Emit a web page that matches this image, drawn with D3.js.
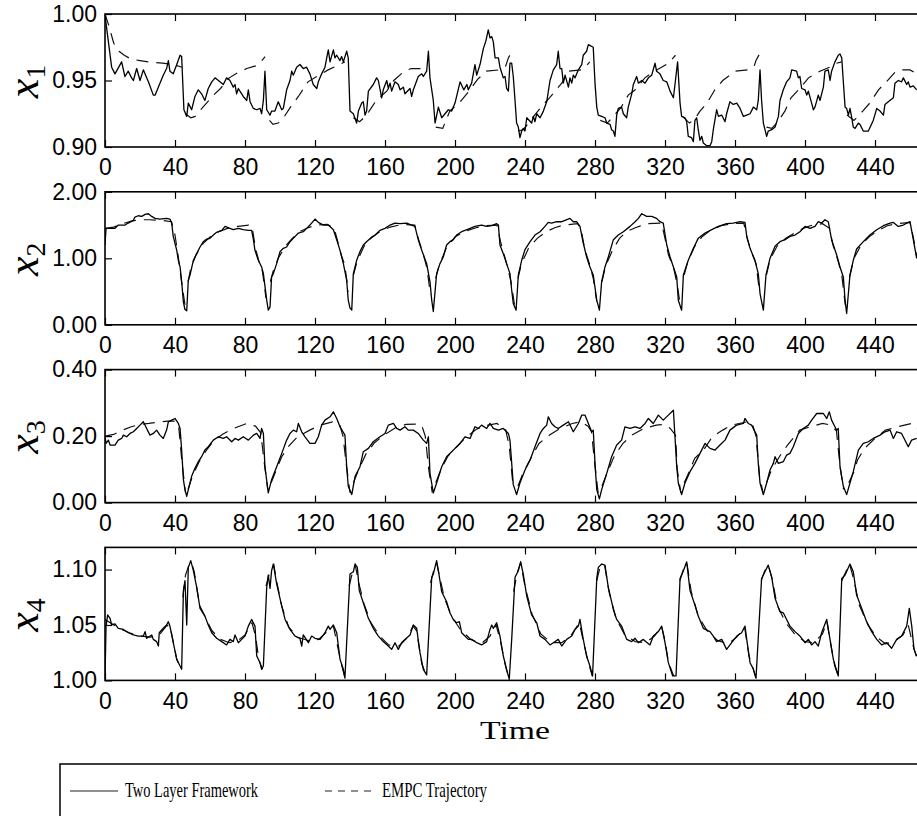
<!DOCTYPE html>
<html>
<head>
<meta charset="utf-8">
<script src="https://cdn.jsdelivr.net/npm/d3@7"></script>
<style>
  body { margin: 0; background: #fff; }
  svg { display: block; }
</style>
</head>
<body>
<svg id="chart" width="917" height="816"></svg>
<script>
// LAYOUT PARAMETERS
const PLOT_LEFT = 105;
const PX_PER_STEP = 1.75;
const PANEL_TOP = 14;
const PANEL_STEP = 177.8;
const PANEL_HEIGHT = 133;
const TICK_FONT = '"Liberation Sans", Arial, Helvetica, sans-serif';
const SERIF_FONT = '"Liberation Serif", "Times New Roman", serif';

// Time axis (the right edge runs past the picture)
const timeDomain = [0, 468];
const timeTicks = [0, 40, 80, 120, 160, 200, 240, 280, 320, 360, 400, 440];

// Two layer framework (solid) series, [time, value]
const x1Two = [[0,0.999],[3.8,0.960],[5.7,0.955],[9.5,0.964],[11.4,0.953],[13.3,0.957],[15.2,0.952],[16.2,0.950],[18.1,0.959],[20,0.950],[21.9,0.958],[23.8,0.952],[24.8,0.949],[27.6,0.939],[28.6,0.939],[31.4,0.948],[33.3,0.954],[35.2,0.959],[36.2,0.965],[37.1,0.957],[39,0.955],[41,0.962],[42.9,0.969],[43.8,0.968],[45.1,0.928],[46.7,0.923],[47.6,0.933],[49.5,0.928],[51.4,0.938],[53.3,0.943],[55.2,0.940],[57.1,0.935],[59,0.944],[61,0.949],[62.9,0.952],[64.8,0.950],[67.6,0.947],[69.5,0.952],[71.4,0.950],[73.3,0.945],[74.3,0.947],[75.2,0.940],[76.2,0.944],[77.1,0.942],[79,0.938],[81,0.935],[81.9,0.943],[82.9,0.934],[84.8,0.929],[86.7,0.928],[88.6,0.929],[89.5,0.925],[90.5,0.935],[91.4,0.957],[92.4,0.928],[94.3,0.924],[95.2,0.927],[97.1,0.927],[99,0.934],[101,0.928],[101.9,0.929],[103.8,0.943],[105.7,0.950],[106.7,0.957],[107.6,0.954],[109.5,0.960],[111.4,0.962],[113.3,0.959],[115.2,0.960],[117.1,0.955],[119,0.947],[121,0.944],[121.9,0.949],[123.8,0.955],[125.7,0.960],[126.7,0.967],[127.6,0.973],[128.6,0.964],[130.5,0.973],[131.4,0.967],[132.4,0.969],[134.3,0.965],[135.2,0.968],[136.2,0.964],[138.1,0.972],[139,0.967],[140,0.927],[141.9,0.925],[143.8,0.918],[144.8,0.927],[146.7,0.933],[147.6,0.934],[148.6,0.924],[149.5,0.927],[150.5,0.942],[153.3,0.947],[155.2,0.952],[156.2,0.950],[158.1,0.937],[159,0.943],[161,0.950],[161.9,0.944],[162.9,0.948],[163.8,0.942],[165.7,0.949],[167.6,0.947],[168.6,0.943],[170.5,0.945],[171.4,0.940],[174.3,0.944],[175.2,0.938],[176.2,0.943],[179,0.953],[181,0.955],[181.9,0.953],[183.8,0.957],[184.8,0.972],[185.7,0.952],[187.6,0.935],[188.6,0.918],[190.5,0.930],[192.4,0.922],[194.3,0.925],[196.2,0.928],[198.1,0.927],[200,0.933],[202.9,0.949],[205,0.943],[206.8,0.947],[207.6,0.943],[209.5,0.948],[211.4,0.962],[212.4,0.954],[214.3,0.962],[216.2,0.974],[217.7,0.980],[219,0.988],[220,0.982],[221,0.983],[221.9,0.979],[222.9,0.967],[224.8,0.967],[225.7,0.960],[227.6,0.952],[228.6,0.953],[229.5,0.944],[230.5,0.942],[231.4,0.963],[232.4,0.963],[233.3,0.953],[234.3,0.935],[235.2,0.918],[236.2,0.915],[237.1,0.907],[238.1,0.912],[239,0.914],[240,0.912],[241,0.922],[243.8,0.918],[244.8,0.923],[245.7,0.919],[246.7,0.925],[248.6,0.922],[250.5,0.927],[252.4,0.934],[254.3,0.950],[256.2,0.958],[258.1,0.962],[259,0.972],[260,0.959],[261,0.959],[261.9,0.948],[262.9,0.954],[264.8,0.945],[265.7,0.952],[266.7,0.948],[267.6,0.954],[268.6,0.952],[270.5,0.958],[272.4,0.962],[273.3,0.969],[275.2,0.972],[276.2,0.977],[279,0.975],[280,0.948],[281,0.930],[281.9,0.924],[283.8,0.923],[285.7,0.922],[286.7,0.918],[288.6,0.917],[289.5,0.913],[290.5,0.912],[291.4,0.908],[292.4,0.924],[293.3,0.929],[295.2,0.930],[296.2,0.925],[298.1,0.922],[299,0.930],[301,0.940],[301.9,0.947],[303.8,0.953],[304.8,0.948],[306.7,0.950],[308.6,0.948],[310.5,0.952],[312.4,0.954],[314.3,0.963],[315.2,0.957],[317.1,0.955],[319,0.950],[321,0.949],[322.9,0.942],[324.8,0.937],[325.7,0.947],[327.2,0.964],[328.6,0.933],[329.5,0.923],[331.4,0.922],[332.4,0.919],[333.3,0.908],[335.2,0.907],[336.2,0.904],[337.1,0.920],[338.1,0.922],[339,0.913],[340,0.905],[341,0.908],[341.9,0.903],[343.8,0.901],[345.7,0.901],[346.7,0.904],[347.6,0.913],[349.5,0.928],[350.5,0.923],[352.4,0.924],[354.3,0.919],[355.2,0.925],[357.1,0.934],[359,0.932],[361,0.933],[362.9,0.929],[364.8,0.923],[366.7,0.924],[368.6,0.925],[370.5,0.930],[372.4,0.928],[373.3,0.935],[374.3,0.958],[375.2,0.935],[376.2,0.918],[378.1,0.908],[379,0.912],[381,0.913],[382.9,0.915],[384.8,0.923],[385.7,0.935],[387.6,0.943],[389.5,0.949],[391.4,0.952],[392.4,0.958],[395.2,0.957],[396.2,0.952],[397.1,0.953],[398.1,0.944],[400,0.943],[401,0.939],[401.9,0.942],[403.8,0.933],[404.8,0.928],[405.7,0.930],[407.6,0.939],[408.6,0.935],[410.5,0.945],[411.4,0.957],[413.3,0.958],[414.3,0.950],[415.2,0.957],[417.1,0.964],[419,0.969],[420,0.970],[421,0.967],[421.9,0.949],[422.9,0.930],[423.8,0.929],[424.8,0.924],[425.7,0.929],[426.7,0.922],[427.6,0.915],[428.6,0.914],[430.5,0.918],[431.4,0.917],[433.3,0.912],[436.2,0.912],[439,0.920],[441,0.929],[442.9,0.927],[444.8,0.924],[445.7,0.932],[447.6,0.934],[450.5,0.937],[451.4,0.948],[453.3,0.950],[455.2,0.949],[456.2,0.952],[458.1,0.947],[459,0.949],[460,0.945],[461.9,0.946],[463.8,0.943]];

const x2Two = [[0,1.20],[0.6,1.45],[2.9,1.45],[5.7,1.45],[7.6,1.50],[11.4,1.50],[13.3,1.53],[16.2,1.57],[17.1,1.62],[19,1.64],[21,1.63],[22.9,1.66],[24.8,1.67],[26.7,1.63],[28.6,1.60],[31.4,1.59],[35.2,1.60],[37.1,1.59],[38.1,1.53],[39,1.33],[41,1.12],[41.9,0.97],[42.9,0.87],[43.8,0.65],[44.8,0.34],[45.7,0.23],[46.7,0.21],[47.6,0.67],[48.6,0.75],[50.5,0.97],[52.4,1.07],[54.3,1.17],[56.2,1.25],[58.1,1.29],[60,1.30],[61.9,1.35],[63.8,1.39],[66.7,1.42],[68.6,1.48],[71.4,1.45],[73.3,1.43],[76.2,1.45],[79,1.43],[81.9,1.42],[83.8,1.42],[84.8,1.28],[85.7,1.12],[87.6,0.97],[89.5,0.87],[90.5,0.77],[92.4,0.37],[93.3,0.22],[94.3,0.27],[95.2,0.72],[96.2,0.77],[98.1,0.92],[100,1.10],[101.9,1.15],[103.8,1.17],[105.7,1.25],[107.6,1.30],[110.5,1.38],[113.3,1.40],[115.2,1.45],[117.1,1.50],[120,1.59],[121.9,1.54],[124.8,1.50],[127.6,1.50],[130.5,1.43],[132.4,1.28],[134.3,1.12],[136.2,0.92],[138.1,0.67],[139,0.37],[140,0.25],[141,0.22],[141.9,0.77],[143.8,0.97],[145.7,1.10],[147.6,1.20],[149.5,1.25],[152.4,1.32],[154.3,1.35],[157.1,1.42],[160,1.45],[162.9,1.50],[165.7,1.53],[168.6,1.52],[172.4,1.53],[175.2,1.50],[177.1,1.48],[179,1.28],[181,1.12],[183.8,0.92],[185.7,0.65],[186.7,0.37],[187.6,0.20],[189.5,0.77],[191.4,0.92],[193.3,1.02],[195.2,1.20],[197.1,1.25],[199,1.28],[200.9,1.35],[203.8,1.40],[207.6,1.44],[211.4,1.48],[215.2,1.50],[218.1,1.48],[221,1.49],[223.8,1.52],[224.8,1.50],[225.7,1.20],[227.6,1.07],[229.5,0.92],[231.4,0.77],[232.4,0.52],[233.3,0.32],[234.9,0.22],[236.2,0.75],[238.1,0.97],[240,1.13],[242.9,1.25],[245.7,1.35],[248.6,1.40],[251.4,1.48],[253.3,1.54],[255.2,1.53],[258.1,1.55],[261,1.55],[262.9,1.57],[265.7,1.60],[267.6,1.55],[269.5,1.55],[271.4,1.48],[273.3,1.23],[275.2,1.02],[277.1,0.87],[279,0.75],[281,0.37],[282.5,0.22],[283.8,0.65],[285.7,0.87],[287.6,1.02],[290.5,1.28],[293.3,1.35],[296.2,1.40],[300,1.48],[302.9,1.55],[304.8,1.60],[306.7,1.67],[309.5,1.63],[312.4,1.63],[315.2,1.60],[317.1,1.55],[319,1.53],[321,1.20],[322.9,1.02],[324.8,0.87],[326.7,0.72],[327.6,0.37],[329.5,0.22],[330.5,0.75],[333.3,0.97],[336.2,1.15],[339,1.30],[342.9,1.38],[346.7,1.43],[350.5,1.48],[355.2,1.52],[359,1.53],[362.9,1.55],[365.7,1.54],[366.7,1.33],[368.6,1.15],[371.4,0.97],[373.3,0.77],[374.3,0.47],[376.2,0.22],[377.7,0.75],[380,1.00],[382.9,1.18],[385.7,1.25],[388.6,1.28],[391.4,1.33],[394.3,1.35],[397.1,1.40],[400,1.48],[402.9,1.45],[405.7,1.48],[407.6,1.55],[409.5,1.53],[411.4,1.58],[413.3,1.55],[415.2,1.28],[418.1,1.05],[420,0.87],[421.9,0.72],[422.9,0.37],[423.8,0.17],[425.7,0.75],[427.6,0.97],[429.5,1.14],[433.3,1.25],[437.1,1.35],[441,1.43],[444.8,1.49],[448.6,1.53],[450.5,1.54],[453.3,1.48],[456.2,1.50],[459,1.54],[460,1.55],[461.9,1.28],[463.8,1.00]];

const x3Two = [[0,0.198],[0.6,0.178],[1.9,0.188],[2.9,0.173],[5.7,0.173],[7.6,0.188],[9.5,0.193],[10.5,0.203],[12.4,0.198],[14.3,0.208],[16.2,0.213],[18.1,0.223],[20,0.233],[21.9,0.243],[23.8,0.223],[25.7,0.203],[27.6,0.208],[29.5,0.218],[31.4,0.203],[33.3,0.193],[35.2,0.218],[36.2,0.243],[38.1,0.248],[40,0.253],[41.9,0.238],[42.9,0.223],[43.8,0.158],[44.8,0.069],[45.7,0.039],[46.7,0.019],[47.6,0.039],[49.5,0.079],[51.4,0.103],[53.3,0.123],[55.2,0.138],[57.1,0.158],[59,0.168],[61.9,0.188],[64.8,0.198],[67.6,0.193],[69.5,0.198],[72.4,0.183],[74.3,0.193],[76.2,0.188],[79,0.198],[81.9,0.188],[84.8,0.203],[86.7,0.208],[88.6,0.193],[89.5,0.223],[90.5,0.208],[91.4,0.108],[93.3,0.029],[95.2,0.069],[98.1,0.108],[101,0.148],[103.8,0.188],[105.7,0.208],[107.6,0.218],[109.5,0.213],[110.5,0.238],[112.4,0.213],[114.3,0.198],[117.1,0.178],[120,0.178],[121.9,0.198],[123.8,0.233],[125.7,0.248],[128.6,0.258],[130.5,0.273],[132.4,0.253],[134.3,0.228],[137.1,0.203],[138.1,0.108],[139,0.049],[141,0.024],[142.9,0.079],[145.7,0.108],[147.6,0.153],[150.5,0.163],[153.3,0.183],[157.1,0.198],[160,0.208],[161.9,0.233],[164.8,0.238],[166.7,0.223],[168.6,0.218],[171.4,0.228],[173.3,0.218],[176.2,0.218],[179,0.208],[181.9,0.188],[183.8,0.178],[184.8,0.198],[185.7,0.089],[187.6,0.029],[189.5,0.059],[192.4,0.108],[195.2,0.138],[198.1,0.153],[200,0.163],[202.9,0.178],[205.7,0.198],[208.6,0.193],[211.4,0.228],[213.3,0.223],[215.2,0.233],[218.1,0.223],[220,0.238],[221.9,0.223],[224.8,0.218],[227.6,0.223],[230.5,0.208],[231.4,0.188],[232.4,0.118],[233.3,0.054],[235.2,0.024],[237.1,0.059],[240,0.098],[242.9,0.128],[245.7,0.168],[248.6,0.208],[250.5,0.223],[252.4,0.233],[253.3,0.258],[255.2,0.238],[257.1,0.228],[259,0.223],[261.9,0.233],[264.8,0.243],[267.6,0.213],[270.5,0.238],[272.4,0.263],[274.3,0.263],[276.2,0.238],[278.1,0.213],[279,0.218],[280,0.118],[281,0.039],[282.5,0.011],[283.8,0.039],[286.7,0.088],[289.5,0.138],[292.4,0.173],[295.2,0.188],[297.1,0.228],[300,0.223],[302.9,0.228],[305.7,0.223],[308.6,0.238],[310.5,0.253],[313.3,0.238],[316.2,0.263],[319,0.248],[321.9,0.263],[324.8,0.278],[325.7,0.198],[326.7,0.108],[327.6,0.059],[329.5,0.024],[331.4,0.059],[334.3,0.093],[337.1,0.118],[340,0.148],[342.9,0.178],[345.7,0.163],[348.6,0.158],[351.4,0.173],[354.3,0.188],[357.1,0.218],[360.9,0.233],[364.8,0.238],[365.7,0.253],[367.6,0.238],[369.5,0.233],[371.4,0.213],[372.4,0.203],[373.3,0.118],[374.3,0.059],[376.2,0.024],[378.1,0.059],[380,0.098],[381.9,0.118],[382.9,0.138],[384.8,0.118],[387.6,0.123],[389.5,0.143],[391.4,0.148],[393.3,0.168],[396.2,0.208],[399,0.223],[401.9,0.233],[403.8,0.248],[406.7,0.268],[410.5,0.268],[412.4,0.253],[413.9,0.273],[415.2,0.248],[417.1,0.228],[418.1,0.218],[419,0.223],[420,0.108],[421.9,0.049],[423.8,0.024],[425.7,0.059],[427.6,0.093],[430.5,0.158],[433.3,0.178],[436.2,0.183],[439,0.193],[442.9,0.203],[445.7,0.213],[448.6,0.218],[450.5,0.193],[452.4,0.213],[455.2,0.208],[459,0.168],[460.9,0.188],[463.8,0.193]];

const x4Two = [[0,1.001],[0.6,1.049],[1.5,1.059],[2.9,1.056],[3.8,1.050],[5.7,1.051],[7.6,1.047],[10.5,1.046],[13.3,1.043],[16.2,1.041],[19,1.040],[21.9,1.040],[22.9,1.044],[23.8,1.038],[26.7,1.041],[27.6,1.037],[29.5,1.035],[30.5,1.031],[31,1.043],[33.3,1.047],[35.2,1.050],[36.2,1.053],[37.1,1.049],[39,1.034],[41,1.019],[42.9,1.013],[43.8,1.010],[44.8,1.081],[45.7,1.090],[46.7,1.050],[47.6,1.102],[49,1.108],[50.5,1.099],[52.4,1.084],[54.3,1.065],[57.1,1.058],[59,1.050],[61,1.043],[63.8,1.038],[66.7,1.035],[69.5,1.032],[71.4,1.037],[73.3,1.035],[74.3,1.041],[76.2,1.034],[78.1,1.037],[80,1.040],[81.9,1.049],[83.8,1.055],[85.7,1.049],[86.7,1.022],[88.6,1.016],[89.5,1.010],[90.5,1.013],[92.4,1.084],[93.3,1.095],[94.3,1.083],[95.2,1.099],[96.2,1.105],[98.1,1.087],[101,1.067],[102.9,1.055],[105.7,1.046],[108.6,1.040],[111.4,1.038],[112.4,1.031],[113.3,1.041],[116.2,1.034],[118.1,1.040],[120,1.038],[122.9,1.037],[125.7,1.043],[127.6,1.049],[128.6,1.046],[130.5,1.050],[132.4,1.043],[134.3,1.019],[136.2,1.010],[137.1,1.002],[140,1.096],[141.9,1.098],[142.9,1.105],[144.2,1.102],[145.3,1.081],[147.6,1.070],[150.5,1.056],[153.3,1.047],[156.2,1.040],[159,1.035],[161.9,1.031],[163.8,1.028],[165.7,1.034],[167.6,1.028],[169.5,1.034],[171.4,1.037],[174.3,1.041],[176.2,1.050],[178.1,1.047],[180,1.025],[181.9,1.010],[183.8,1.005],[186.7,1.093],[187.6,1.096],[189.5,1.108],[190.5,1.099],[192.4,1.080],[195.2,1.071],[197.1,1.061],[199,1.055],[200.9,1.052],[202.5,1.053],[203.8,1.043],[205.7,1.040],[207.6,1.037],[209.5,1.037],[212.4,1.034],[215.2,1.032],[218.1,1.035],[220,1.046],[221,1.050],[221.9,1.047],[223.8,1.052],[225.7,1.040],[227.6,1.022],[229.5,1.010],[231,1.001],[232.4,1.037],[234.3,1.093],[236.2,1.099],[237.5,1.107],[239,1.096],[241,1.076],[243.8,1.059],[246.7,1.052],[248.6,1.040],[251.4,1.037],[254.3,1.032],[256.2,1.034],[259,1.037],[261,1.031],[263.8,1.037],[266.7,1.040],[268.6,1.046],[270.5,1.049],[271.4,1.055],[273.3,1.037],[275.2,1.022],[277.1,1.013],[278.6,1.004],[281,1.092],[281.9,1.102],[283.8,1.105],[285.7,1.104],[287.6,1.084],[290.5,1.064],[292.4,1.055],[295.2,1.049],[298.1,1.037],[301,1.035],[302.9,1.038],[304.8,1.034],[307.6,1.037],[311.4,1.032],[313.3,1.040],[316.2,1.044],[318.1,1.049],[320,1.034],[321.9,1.016],[324.4,1.004],[326.3,1.004],[328.6,1.092],[330.5,1.099],[332.4,1.107],[334.3,1.081],[337.1,1.068],[339,1.058],[341.9,1.047],[345.7,1.044],[347.6,1.040],[349.5,1.035],[352.4,1.037],[355.2,1.028],[358.1,1.034],[361,1.040],[363.8,1.043],[365.7,1.049],[366.7,1.037],[368.6,1.016],[370.5,1.010],[372,1.002],[375.2,1.092],[377.1,1.098],[379,1.104],[381,1.093],[382.9,1.074],[385.7,1.062],[387.6,1.061],[389.5,1.055],[391.4,1.049],[394.3,1.044],[397.1,1.040],[400,1.034],[401.9,1.037],[403.8,1.032],[405.7,1.035],[407.6,1.031],[409.5,1.043],[412.4,1.055],[414.3,1.037],[416.2,1.019],[419,1.004],[421,1.092],[422.9,1.095],[425.7,1.105],[427.6,1.098],[429.5,1.077],[432.4,1.065],[435.2,1.053],[438.1,1.044],[441,1.037],[443.8,1.032],[446.7,1.034],[449.5,1.029],[452.4,1.037],[455.2,1.040],[458.1,1.049],[459.6,1.065],[461,1.049],[462.3,1.028],[463.8,1.022]];

// EMPC trajectory (dashed), one array of [time, value] per EMPC horizon
const x1Empc = [
  [[0,1.000],[2,0.992],[5,0.978],[8,0.972],[11,0.969],[15,0.966],[20,0.965],[25,0.964],[33,0.963],[39,0.962],[44,0.960]],
  [[46,0.925],[49,0.922],[51.5,0.923],[54,0.927],[58,0.933],[62,0.939],[66,0.944],[71,0.952],[76,0.956],[81,0.959],[86,0.961],[89,0.964],[91.5,0.968]],
  [[94,0.920],[96,0.917],[99,0.918],[102,0.922],[106,0.930],[110.5,0.938],[116,0.949],[121,0.953],[127.5,0.958],[134,0.962],[137,0.964]],
  [[142,0.922],[145.5,0.919],[149.5,0.924],[152,0.929],[155,0.935],[161,0.942],[165,0.950],[171,0.957],[175,0.959],[180,0.959],[184,0.960]],
  [[189,0.915],[193,0.914],[197,0.927],[203,0.934],[208,0.942],[213,0.951],[218,0.957],[225.5,0.958],[229,0.961],[230.5,0.967],[232.5,0.972]],
  [[236,0.912],[239,0.913],[242,0.918],[245.5,0.924],[250.5,0.932],[254,0.937],[261,0.948],[265,0.957],[272,0.958],[275,0.961],[277,0.964]],
  [[283,0.920],[287,0.918],[290.5,0.923],[295,0.930],[299,0.939],[303,0.943],[308.5,0.952],[314,0.957],[318,0.960],[322,0.963],[326,0.969]],
  [[330,0.923],[334,0.918],[337,0.921],[340,0.927],[344,0.933],[348.5,0.943],[353,0.950],[360,0.957],[367.5,0.958],[371,0.961],[372,0.965],[374,0.970]],
  [[378,0.915],[381,0.914],[384.5,0.919],[388.5,0.927],[392,0.937],[397,0.944],[402,0.952],[408.5,0.957],[414,0.960],[418,0.963],[421,0.964]],
  [[424,0.924],[428,0.920],[433,0.927],[437,0.933],[442,0.943],[446.5,0.949],[452,0.957],[456,0.958],[460,0.958],[464,0.955]]
];

const x2Empc = [
  [[0,1.45],[5,1.47],[10,1.52],[15,1.56],[20,1.58],[25,1.58],[33,1.57],[38,1.55],[40,1.35],[42,1.00],[44,0.60],[46,0.25]],
  [[47.5,0.65],[49,0.85],[52,1.05],[56,1.22],[60,1.32],[65,1.40],[70,1.45],[76,1.48],[82,1.50],[84,1.48],[86,1.15],[88,0.95],[90,0.80],[92,0.40]],
  [[94.5,0.65],[96,0.80],[99,1.00],[103,1.18],[107,1.30],[111,1.40],[116,1.46],[121,1.50],[127,1.51],[131,1.45],[133,1.25],[135,1.05],[137,0.90],[139,0.50]],
  [[142,0.75],[144,0.95],[148,1.18],[152,1.30],[157,1.40],[163,1.47],[170,1.51],[177,1.50],[179,1.30],[182,1.05],[184,0.85],[186,0.45]],
  [[189,0.70],[191,0.90],[195,1.15],[200,1.32],[205,1.40],[212,1.46],[218,1.49],[224,1.50],[226,1.25],[229,0.97],[232,0.65],[234,0.30]],
  [[236,0.70],[238,0.92],[242,1.15],[247,1.30],[252,1.40],[257,1.46],[262,1.50],[270,1.52],[272,1.45],[274,1.15],[277,0.90],[279,0.70],[281,0.35]],
  [[284,0.65],[286,0.88],[290,1.12],[294,1.30],[298,1.40],[303,1.46],[310,1.52],[318,1.53],[320,1.30],[322,1.05],[325,0.85],[327,0.60],[329,0.25]],
  [[331,0.75],[333,0.95],[337,1.18],[341,1.32],[346,1.42],[352,1.49],[358,1.52],[365,1.53],[367,1.30],[369,1.12],[372,0.92],[374,0.50]],
  [[378,0.75],[380,0.98],[384,1.18],[389,1.30],[394,1.38],[399,1.45],[403,1.49],[410,1.52],[414,1.45],[416,1.20],[419,0.95],[421,0.75],[423,0.30]],
  [[425.5,0.72],[428,1.00],[432,1.20],[437,1.33],[442,1.42],[447,1.49],[452,1.52],[460,1.54],[462,1.30],[464,1.00]]
];

const x3Empc = [
  [[0,0.200],[5,0.205],[10,0.218],[15,0.228],[20,0.235],[25,0.238],[30,0.242],[36,0.245],[40,0.245],[42,0.235],[44,0.120],[46,0.030]],
  [[47.5,0.040],[50,0.080],[54,0.125],[58,0.158],[62,0.185],[67,0.205],[73,0.222],[81,0.238],[86,0.230],[89,0.210],[91,0.120],[93,0.040]],
  [[95,0.060],[98,0.100],[101,0.138],[105,0.170],[110,0.198],[117,0.218],[123,0.233],[130,0.243],[134,0.235],[136,0.200],[138,0.110],[140,0.030]],
  [[142,0.060],[145,0.100],[149,0.145],[154,0.180],[160,0.205],[166,0.225],[172,0.235],[178,0.236],[181,0.232],[183,0.200],[185,0.100],[187,0.030]],
  [[189,0.060],[192,0.100],[196,0.140],[201,0.168],[206,0.195],[212,0.220],[218,0.232],[224,0.238],[229,0.218],[231,0.170],[233,0.060]],
  [[236,0.050],[239,0.090],[243,0.130],[248,0.178],[254,0.203],[260,0.223],[267,0.238],[272,0.243],[276,0.230],[278,0.213],[280,0.110],[282,0.020]],
  [[284,0.050],[287,0.090],[291,0.140],[296,0.178],[301,0.203],[308,0.223],[315,0.233],[320,0.235],[323,0.223],[326,0.203],[327,0.100],[329,0.030]],
  [[331,0.060],[334,0.095],[337,0.133],[342,0.158],[347,0.198],[353,0.218],[358,0.233],[367,0.243],[370,0.235],[372,0.200],[374,0.080],[376,0.030]],
  [[378,0.060],[381,0.100],[386,0.143],[390,0.173],[397,0.218],[403,0.228],[410,0.238],[415,0.233],[418,0.215],[420,0.110],[422,0.040]],
  [[425,0.060],[428,0.093],[430,0.128],[434,0.163],[440,0.193],[446,0.218],[453,0.228],[461,0.238],[464,0.223]]
];

const x4Empc = [
  [[0,1.055],[3,1.052],[8,1.047],[14,1.043],[20,1.040],[26,1.039],[31,1.041],[35,1.049],[37,1.050],[39,1.035],[41,1.019],[43.5,1.010]],
  [[44.5,1.075],[46,1.095],[48,1.104],[49.5,1.106],[51,1.098],[54,1.068],[57,1.058],[61,1.045],[66,1.037],[71,1.034],[76,1.036],[80,1.041],[84,1.052],[86,1.040],[88,1.018],[90,1.010]],
  [[92,1.085],[94,1.097],[96.5,1.104],[98,1.090],[101,1.067],[105,1.048],[110,1.039],[116,1.036],[122,1.037],[127,1.044],[130.5,1.049],[133,1.030],[135.5,1.012],[137,1.003]],
  [[139.5,1.085],[141.5,1.098],[143,1.104],[145,1.088],[148,1.069],[152,1.052],[157,1.040],[162,1.032],[168,1.031],[173,1.039],[176,1.049],[178,1.045],[181,1.015],[183.5,1.005]],
  [[186,1.088],[188,1.100],[189.5,1.106],[191,1.095],[194,1.074],[198,1.058],[203,1.046],[209,1.037],[215,1.033],[220,1.040],[223.5,1.050],[226,1.035],[229,1.012],[231,1.001]],
  [[233.5,1.080],[235.5,1.097],[237.5,1.106],[240,1.085],[244,1.060],[249,1.042],[255,1.034],[261,1.034],[266,1.040],[271,1.052],[273,1.038],[276,1.017],[278.5,1.004]],
  [[281,1.090],[283,1.103],[285.5,1.104],[288,1.080],[292,1.056],[297,1.041],[303,1.035],[309,1.034],[314,1.040],[318,1.049],[320,1.036],[322,1.016],[325,1.004]],
  [[328.5,1.090],[330.5,1.100],[332.5,1.106],[335,1.080],[339,1.058],[344,1.045],[350,1.036],[356,1.033],[361,1.039],[365.5,1.048],[368,1.022],[370.5,1.010],[372,1.002]],
  [[375,1.090],[377,1.099],[379,1.104],[381.5,1.090],[384,1.068],[389,1.052],[394,1.042],[400,1.035],[405,1.034],[410,1.042],[412.5,1.053],[415,1.030],[417,1.013],[419,1.004]],
  [[421,1.090],[423,1.097],[425.5,1.105],[428,1.090],[431,1.068],[436,1.050],[441,1.039],[446,1.033],[451,1.035],[456,1.041],[459,1.050],[462,1.030],[464,1.020]]
];

// Per-state axis settings
const stateNames = ['1', '2', '3', '4'];
const stateDomains = [[0.90, 1.00], [0, 2], [0, 0.4], [1.00, 1.12]];
const stateTicks = [[0.90, 0.95, 1.00], [0, 1, 2], [0, 0.2, 0.4], [1.00, 1.05, 1.10]];
const twoSeries = [x1Two, x2Two, x3Two, x4Two];
const empcSeries = [x1Empc, x2Empc, x3Empc, x4Empc];

const legendLabels = ['Two Layer Framework', 'EMPC Trajectory'];

const svg = d3.select('#chart');

const x = d3.scaleLinear()
  .domain(timeDomain)
  .range([PLOT_LEFT, PLOT_LEFT + (timeDomain[1] - timeDomain[0]) * PX_PER_STEP]);
const plotRight = x.range()[1];

stateNames.forEach((name, i) => {
  const top = PANEL_TOP + i * PANEL_STEP;
  const bottom = top + PANEL_HEIGHT;
  const y = d3.scaleLinear().domain(stateDomains[i]).range([bottom, top]);
  const g = svg.append('g').attr('class', `panel panel-${name}`);

  g.append('clipPath').attr('id', `clip-${name}`)
    .append('rect')
    .attr('x', PLOT_LEFT).attr('y', top)
    .attr('width', plotRight - PLOT_LEFT).attr('height', PANEL_HEIGHT);

  const line = d3.line().x((d) => x(d[0])).y((d) => y(d[1]));

  const lines = g.append('g').attr('clip-path', `url(#clip-${name})`);
  lines.selectAll('path.empc')
    .data(empcSeries[i])
    .join('path')
    .attr('class', 'empc')
    .attr('d', line)
    .attr('fill', 'none')
    .attr('stroke', '#111')
    .attr('stroke-width', 1.2)
    .attr('stroke-dasharray', '12,8');
  lines.append('path')
    .datum(twoSeries[i])
    .attr('d', line)
    .attr('fill', 'none')
    .attr('stroke', '#000')
    .attr('stroke-width', 1.3)
    .attr('stroke-linejoin', 'round');

  // axes with inward ticks
  const bottomAxis = g.append('g')
    .attr('transform', `translate(0,${bottom})`)
    .call(d3.axisBottom(x).tickValues(timeTicks).tickSize(-7).tickSizeOuter(0)
      .tickPadding(12).tickFormat(d3.format('d')));
  g.append('g')
    .attr('transform', `translate(0,${top})`)
    .call(d3.axisTop(x).tickValues(timeTicks).tickSize(-7).tickSizeOuter(0)
      .tickFormat(''));
  const leftAxis = g.append('g')
    .attr('transform', `translate(${PLOT_LEFT},0)`)
    .call(d3.axisLeft(y).tickValues(stateTicks[i]).tickSize(-7).tickSizeOuter(0)
      .tickPadding(8).tickFormat(d3.format('.2f')));

  g.selectAll('.domain').remove();
  g.selectAll('.tick line').attr('stroke', '#000').attr('stroke-width', 1.2);
  [bottomAxis, leftAxis].forEach((a) => a.selectAll('text')
    .attr('fill', '#000')
    .style('font-family', TICK_FONT)
    .style('font-size', '23px'));

  g.append('rect')
    .attr('x', PLOT_LEFT).attr('y', top)
    .attr('width', plotRight - PLOT_LEFT).attr('height', PANEL_HEIGHT)
    .attr('fill', 'none')
    .attr('stroke', '#000')
    .attr('stroke-width', 1.6);

  // y label, x with subscript
  const label = g.append('text')
    .attr('transform', `translate(38,${top + PANEL_HEIGHT / 2 + 1}) rotate(-90)`)
    .attr('text-anchor', 'middle')
    .style('font-family', SERIF_FONT)
    .style('font-size', '44px');
  label.append('tspan').style('font-style', 'italic').text('x');
  label.append('tspan').attr('dy', 7).style('font-size', '28px').text(name);
});

svg.append('text')
  .attr('x', 515).attr('y', 739)
  .attr('text-anchor', 'middle')
  .attr('textLength', 70)
  .attr('lengthAdjust', 'spacingAndGlyphs')
  .style('font-family', SERIF_FONT)
  .style('font-size', '26px')
  .text('Time');

// legend
const legend = svg.append('g').attr('class', 'legend');
legend.append('rect')
  .attr('x', 60).attr('y', 764)
  .attr('width', 900).attr('height', 80)
  .attr('fill', 'none')
  .attr('stroke', '#000')
  .attr('stroke-width', 1.5);

const legendItems = [
  { x: 70, dash: null, textX: 125, width: 133 },
  { x: 325, dash: '7,6', textX: 382, width: 105 },
];
legendItems.forEach((item, i) => {
  legend.append('line')
    .attr('x1', item.x).attr('x2', item.x + 48)
    .attr('y1', 791).attr('y2', 791)
    .attr('stroke', '#222')
    .attr('stroke-width', 1.2)
    .attr('stroke-dasharray', item.dash);
  legend.append('text')
    .attr('x', item.textX).attr('y', 797)
    .attr('textLength', item.width)
    .attr('lengthAdjust', 'spacingAndGlyphs')
    .style('font-family', SERIF_FONT)
    .style('font-size', '21px')
    .text(legendLabels[i]);
});
</script>
</body>
</html>
